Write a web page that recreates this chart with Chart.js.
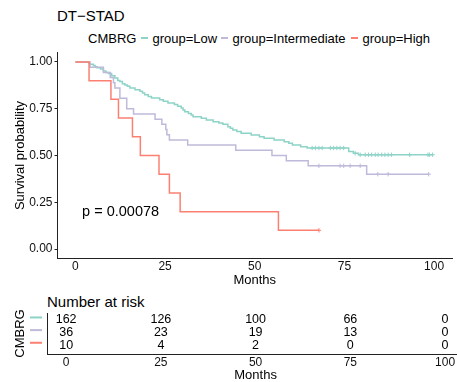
<!DOCTYPE html>
<html lang="en">
<head>
<meta charset="UTF-8" />
<title>DT-STAD survival</title>
<script src="https://cdn.jsdelivr.net/npm/chart.js@4"></script>
<style>
    html, body { margin: 0; padding: 0; background: #fff; width: 457px; height: 382px; overflow: hidden; }
    body { position: relative; font-family: "Liberation Sans", Arial, sans-serif; color: #000; }
    .txt { position: absolute; white-space: nowrap; line-height: 1; }
    .dash { position: absolute; height: 2px; width: 7px; }
    canvas { position: absolute; left: 0; }
</style>
</head>
<body>

<div class="txt" style="left:57px; top:8px; font-size:15px;">DT−STAD</div>

<!-- legend -->
<div class="txt" style="left:88px; top:31.5px; font-size:13px;">CMBRG</div>
<div class="dash" style="left:141px; top:37px; background:#8DD3C7;"></div>
<div class="txt" style="left:152.5px; top:31.5px; font-size:13px;">group=Low</div>
<div class="dash" style="left:220.5px; top:37px; background:#BEBADA;"></div>
<div class="txt" style="left:232.5px; top:31.5px; font-size:13px;">group=Intermediate</div>
<div class="dash" style="left:350.5px; top:37px; background:#FB8072;"></div>
<div class="txt" style="left:362.5px; top:31.5px; font-size:13px;">group=High</div>

<canvas id="km" width="457" height="290" style="top:0;"></canvas>

<div class="txt" style="left:47px; top:294px; font-size:15px;">Number at risk</div>
<canvas id="risk" width="464" height="102" style="top:285px;"></canvas>

<script>
// ---- data ----
const groups = ['Low', 'Intermediate', 'High'];
const colors = ['#8DD3C7', '#BEBADA', '#FB8072'];

// Kaplan-Meier steps: time (months) and survival right after that time
const lowTime = [0, 3.7, 4.1, 5.0, 5.5, 6.0, 7.0, 7.8, 8.5, 9.2, 10.1, 11.0, 11.8, 12.4, 13.1, 13.8, 14.5, 15.2,
    16.6, 18.0, 18.7, 19.3, 20.3, 21.2, 23.5, 24.5, 25.8, 27.6, 28.5, 29.5, 30.0, 30.5, 31.5, 32.3, 32.8, 35.1,
    36.5, 38.4, 40.0, 41.1, 42.5, 43.2, 43.9, 45.0, 46.2, 49.0, 51.3, 52.6, 55.4, 58.2, 59.5, 60.5, 62.8, 64.6,
    76.2, 77.5, 78.9, 99.6];
const lowSurv = [1, 0.994, 0.988, 0.981, 0.975, 0.969, 0.963, 0.951, 0.944, 0.938, 0.926, 0.914, 0.901, 0.895,
    0.883, 0.877, 0.870, 0.861, 0.852, 0.843, 0.834, 0.825, 0.816, 0.807, 0.798, 0.790, 0.781, 0.772, 0.763, 0.754,
    0.743, 0.734, 0.725, 0.716, 0.707, 0.699, 0.690, 0.681, 0.674, 0.667, 0.654, 0.645, 0.636, 0.628, 0.619, 0.610,
    0.600, 0.592, 0.583, 0.574, 0.565, 0.556, 0.547, 0.540, 0.522, 0.512, 0.504, 0.504];
const lowCensor = [66.0, 66.9, 67.9, 68.8, 71.1, 72.0, 72.9, 73.8, 74.8, 78.0, 79.4, 80.8, 81.7, 82.6, 83.6,
    84.4, 85.4, 86.3, 87.2, 88.1, 93.2, 98.3, 98.7, 99.6];

const midTime = [0, 4.1, 7.8, 9.7, 10.6, 11.0, 12.4, 14.3, 16.2, 22.2, 24.1, 25.2, 25.5, 26.2, 31.3, 44.7,
    54.8, 58.8, 64.9, 81.2, 98.5];
const midSurv = [1, 0.972, 0.944, 0.917, 0.889, 0.861, 0.806, 0.750, 0.722, 0.694, 0.667, 0.639, 0.611, 0.583,
    0.556, 0.528, 0.500, 0.472, 0.445, 0.400, 0.400];
const midCensor = [67.9, 73.8, 74.8, 76.6, 79.4, 84.3, 87.2, 98.5];

const highTime = [0, 3.8, 9.9, 12.0, 15.9, 18.1, 23.3, 26.2, 29.2, 56.6, 67.9];
const highSurv = [1, 0.9, 0.8, 0.7, 0.6, 0.5, 0.4, 0.3, 0.2, 0.1, 0.1];
const highCensor = [67.9];

const pText = 'p = 0.00078';

// number at risk table
const riskTimes = [0, 25, 50, 75, 100];
const riskLow = [162, 126, 100, 66, 0];
const riskMid = [36, 23, 19, 13, 0];
const riskHigh = [10, 4, 2, 0, 0];

const xTicks = [0, 25, 50, 75, 100];
const yTicks = [0, 0.25, 0.5, 0.75, 1];

// ---- helpers ----
const FONT = '"Liberation Sans", Arial, sans-serif';

function steps(t, s) {
    return t.map((v, i) => ({ x: v, y: s[i] }));
}
function survAt(t, s, x) {
    let v = s[0];
    for (let i = 0; i < t.length; i++) if (t[i] <= x) v = s[i];
    return v;
}
function censors(c, t, s) {
    return c.map(x => ({ x: x, y: survAt(t, s, x) }));
}

const curves = [
    { t: highTime, s: highSurv, c: highCensor, col: colors[2] },
    { t: midTime, s: midSurv, c: midCensor, col: colors[1] },
    { t: lowTime, s: lowSurv, c: lowCensor, col: colors[0] }
];

const kmSets = [];
curves.forEach(g => {
    kmSets.push({
        data: steps(g.t, g.s), stepped: true, borderColor: g.col, borderWidth: 1.5,
        pointRadius: 0, fill: false
    });
    kmSets.push({
        data: censors(g.c, g.t, g.s), showLine: false, pointStyle: 'cross', pointRadius: 2.2,
        borderColor: g.col, borderWidth: 1
    });
});

const pvalPlugin = {
    id: 'pval',
    afterDatasetsDraw(chart) {
        const { ctx, scales: { x, y } } = chart;
        ctx.save();
        ctx.font = '14.5px ' + FONT;
        ctx.fillStyle = '#000';
        ctx.textAlign = 'center';
        ctx.textBaseline = 'middle';
        ctx.fillText(pText, x.getPixelForValue(12.6), y.getPixelForValue(0.196));
        ctx.restore();
    }
};

new Chart(document.getElementById('km'), {
    type: 'line',
    data: { datasets: kmSets },
    options: {
        responsive: false, animation: false, devicePixelRatio: 1,
        layout: { padding: { top: 52.6, left: 0, right: 0, bottom: 0 } },
        plugins: { legend: { display: false }, tooltip: { enabled: false } },
        scales: {
            x: {
                type: 'linear', min: -5, max: 105,
                afterBuildTicks: s => { s.ticks = xTicks.map(v => ({ value: v })); },
                afterFit: s => { s.height = 31.6; },
                grid: { display: false, tickLength: 1 },
                border: { color: '#222', width: 1 },
                ticks: { color: '#111', font: { size: 12, family: FONT }, padding: 0, maxRotation: 0 },
                title: { display: true, text: 'Months', color: '#000', font: { size: 13, family: FONT }, padding: { top: 0, bottom: 2.2 } }
            },
            y: {
                min: -0.05, max: 1.05,
                afterBuildTicks: s => { s.ticks = yTicks.map(v => ({ value: v })); },
                afterFit: s => { s.width = 57.5; },
                grid: { display: true, drawOnChartArea: false, tickLength: 3, color: '#222' },
                border: { color: '#222', width: 1 },
                ticks: { color: '#111', font: { size: 12, family: FONT }, padding: 2, callback: v => v.toFixed(2) },
                title: { display: true, text: 'Survival probability', color: '#000', font: { size: 13, family: FONT }, padding: { top: 12.2, bottom: 0 } }
            }
        }
    },
    plugins: [pvalPlugin]
});

// ---- risk table ----
const riskRows = [riskLow, riskMid, riskHigh];
const riskSets = riskRows.map((row, r) => ({
    data: riskTimes.map(t => ({ x: t, y: r + 1 })),
    counts: row,
    showLine: false, pointRadius: 0, borderColor: colors[r]
}));

const riskPlugin = {
    id: 'riskText',
    afterDatasetsDraw(chart) {
        const { ctx } = chart;
        const yScale = chart.scales.y;
        ctx.save();
        ctx.font = '12.5px ' + FONT;
        ctx.fillStyle = '#000';
        ctx.textAlign = 'center';
        ctx.textBaseline = 'middle';
        chart.data.datasets.forEach((ds, i) => {
            chart.getDatasetMeta(i).data.forEach((pt, j) => {
                ctx.fillText(String(ds.counts[j]), pt.x, pt.y);
            });
        });
        // coloured keys in place of the group labels
        ctx.lineWidth = 2;
        groups.forEach((g, r) => {
            const py = yScale.getPixelForValue(r + 1) - 2.5;
            ctx.strokeStyle = colors[r];
            ctx.beginPath();
            ctx.moveTo(30, py);
            ctx.lineTo(42, py);
            ctx.stroke();
        });
        ctx.restore();
    }
};

new Chart(document.getElementById('risk'), {
    type: 'line',
    data: { datasets: riskSets },
    options: {
        responsive: false, animation: false, devicePixelRatio: 1,
        layout: { padding: { top: 28, left: 0, right: 0, bottom: 0 } },
        plugins: { legend: { display: false }, tooltip: { enabled: false } },
        scales: {
            x: {
                type: 'linear', min: -5, max: 105,
                afterBuildTicks: s => { s.ticks = riskTimes.map(v => ({ value: v })); },
                afterFit: s => { s.height = 33; },
                grid: { display: false, drawTicks: false },
                border: { color: '#222', width: 1 },
                ticks: { color: '#111', font: { size: 12, family: FONT }, padding: 1, maxRotation: 0 },
                title: { display: true, text: 'Months', color: '#000', font: { size: 13, family: FONT }, padding: { top: 0, bottom: 4.2 } }
            },
            y: {
                reverse: true, min: 0.45, max: 3.69,
                afterFit: s => { s.width = 47.2; },
                grid: { display: false, drawTicks: false },
                border: { color: '#222', width: 1 },
                ticks: { display: false },
                title: { display: true, text: 'CMBRG', color: '#000', font: { size: 13, family: FONT }, padding: { top: 12.2, bottom: 0 } }
            }
        }
    },
    plugins: [riskPlugin]
});
</script>
</body>
</html>
